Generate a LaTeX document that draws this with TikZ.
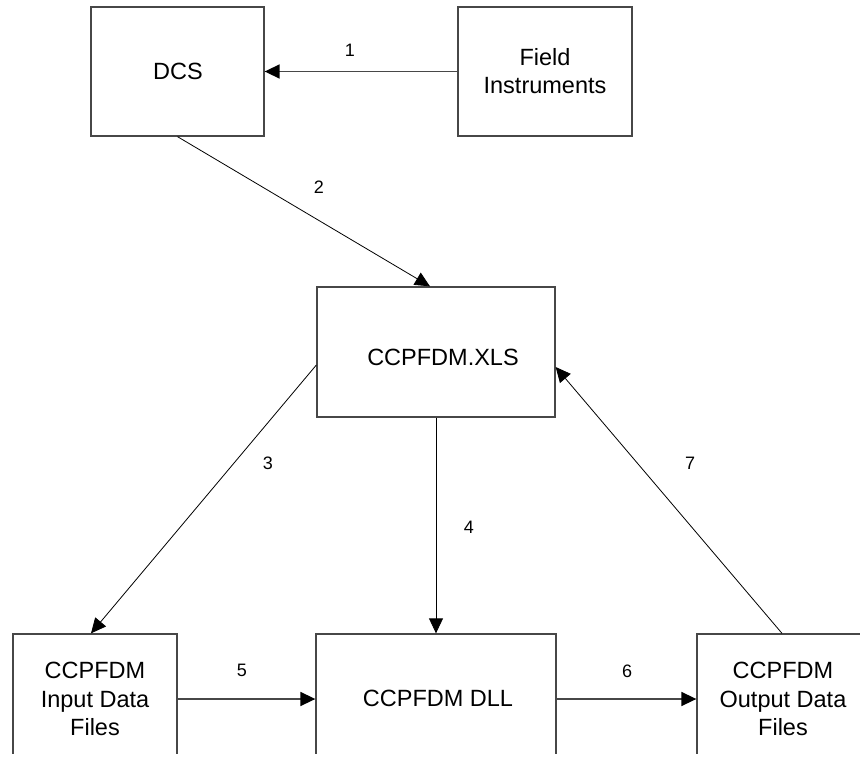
\documentclass[tikz,border=0pt]{standalone}
\usepackage{fontspec}
\setmainfont{Liberation Sans}
\usetikzlibrary{arrows.meta}
\tikzset{
  box/.style={draw=black!72, line width=1.3pt, rectangle, inner sep=0pt},
  boxtext/.style={inner sep=0pt, align=center, font=\fontsize{23.5}{28.5}\selectfont},
  numlabel/.style={inner sep=0pt, font=\fontsize{18}{20}\selectfont},
  thickarrow/.style={draw=black!72, line width=1.6pt, -{Triangle[length=15pt,width=14pt,color=black]}},
  thinarrow/.style={draw=black, line width=0.8pt, -{Triangle[length=15pt,width=14pt]}}
}
\begin{document}
\begin{tikzpicture}[x=1pt,y=-1pt]
\useasboundingbox[fill=white] (0,0) rectangle (860,763);
\begin{scope}
\clip (0,0) rectangle (860,753);
% top boxes
\node[box, minimum width=173pt, minimum height=129pt] (dcs) at (177.5,71.5) {};
\node[box, minimum width=174pt, minimum height=129pt] (fi) at (545,71.5) {};
\node[box, minimum width=238pt, minimum height=130pt] (xls) at (436,352) {};
% bottom boxes (open below the picture edge)
\node[box, minimum width=164pt, minimum height=130pt] (inp) at (95,699) {};
\node[box, minimum width=240pt, minimum height=130pt] (dll) at (436,699) {};
\node[box, minimum width=172pt, minimum height=130pt] (out) at (783,699) {};
% texts
\node[boxtext] (tdcs) at (178,71.5) {DCS};
\node[boxtext] (tfi) at (545,71) {Field\\Instruments};
\node[boxtext] (txls) at (443,357) {CCPFDM.XLS};
\node[boxtext] (tinp) at (95,699) {CCPFDM\\Input Data\\Files};
\node[boxtext] (tdll) at (438,698) {CCPFDM DLL};
\node[boxtext] (tout) at (783,699) {CCPFDM\\Output Data\\Files};
% connectors
\draw[thickarrow] (fi.west) -- (dcs.east);
\draw[thinarrow] (dcs.south) -- ([xshift=-6pt]xls.north);
\draw[thinarrow] ([yshift=-13pt]xls.west) -- ([xshift=-4pt]inp.north);
\draw[thinarrow] (xls.south) -- (dll.north);
\draw[thickarrow] (inp.east) -- (dll.west);
\draw[thickarrow] (dll.east) -- (out.west);
\draw[thinarrow] ([xshift=-1pt]out.north) -- ([yshift=-15pt]xls.east);
% labels
\node[numlabel] (l1) at (350,50) {1};
\node[numlabel] (l2) at (319,187) {2};
\node[numlabel] (l3) at (268,463) {3};
\node[numlabel] (l4) at (469,527) {4};
\node[numlabel] (l5) at (242,670) {5};
\node[numlabel] (l6) at (627,671) {6};
\node[numlabel] (l7) at (690,463) {7};
\end{scope}
\end{tikzpicture}
\end{document}
